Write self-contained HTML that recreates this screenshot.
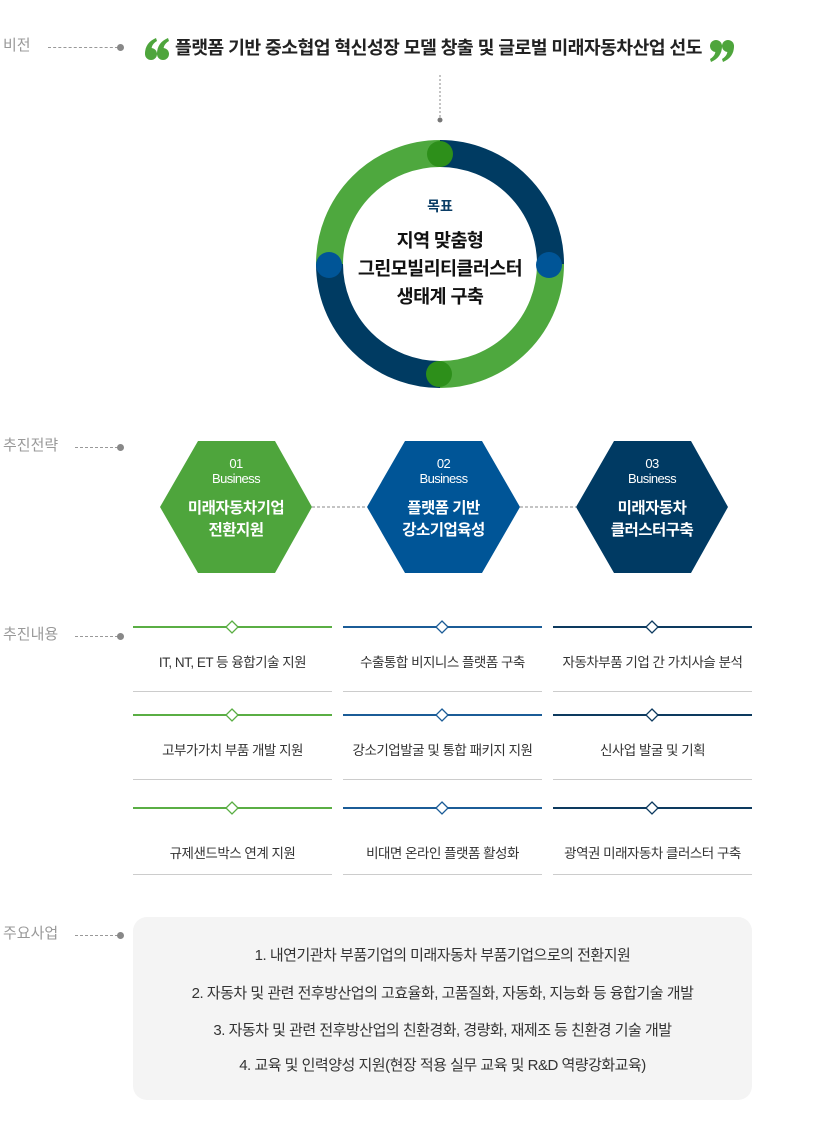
<!DOCTYPE html>
<html><head><meta charset="utf-8"><style>
body{margin:0;width:821px;height:1143px;background:#fff;position:relative;overflow:hidden;font-family:"Liberation Sans","Noto Sans CJK KR",sans-serif;}
.a{position:absolute;white-space:nowrap;}
.lbl{position:absolute;left:3px;font-size:15px;color:#999;line-height:20px;}
.dash{position:absolute;border-top:1px dashed #999;height:0;}
.dot{position:absolute;width:7px;height:7px;border-radius:50%;background:#888;}
.item{position:absolute;width:199px;text-align:center;font-size:13.5px;color:#333;letter-spacing:-0.5px;}
.sep{position:absolute;width:199px;height:1px;background:#ccc;}
.box{position:absolute;left:133px;top:917px;width:619px;height:183px;background:#f4f4f4;border-radius:14px;}
.bl{position:absolute;left:0;width:619px;text-align:center;font-size:15px;color:#333;letter-spacing:-0.5px;}
</style></head><body>

<div class="lbl" style="top:36px">비전</div>
<div class="dash" style="left:48px;top:47px;width:70px"></div><div class="dot" style="left:117px;top:44px"></div>
<div class="lbl" style="top:436px">추진전략</div>
<div class="dash" style="left:75px;top:447px;width:43px"></div><div class="dot" style="left:117px;top:444px"></div>
<div class="lbl" style="top:625px">추진내용</div>
<div class="dash" style="left:75px;top:636px;width:43px"></div><div class="dot" style="left:117px;top:633px"></div>
<div class="lbl" style="top:924px">주요사업</div>
<div class="dash" style="left:75px;top:935px;width:43px"></div><div class="dot" style="left:117px;top:932px"></div>

<div class="a" style="left:175px;top:37px;font-size:18.3px;font-weight:bold;color:#222;letter-spacing:-0.6px;line-height:22px">플랫폼 기반 중소협업 혁신성장 모델 창출 및 글로벌 미래자동차산업 선도</div>

<svg class="a" style="left:0;top:0" width="821" height="1143">
<!-- quotes -->
<g fill="#4ea53c">
<circle cx="151" cy="54" r="6"/><path d="M145 54 C145 46 149 41 156 38 L157 41 C152 44 151 48 152 50 Z"/>
<circle cx="163" cy="54" r="6"/><path d="M157 54 C157 46 161 41 168 38 L169 41 C164 44 163 48 164 50 Z"/>
<circle cx="716" cy="46" r="6"/><path d="M722 46 C722 54 718 59 711 62 L710 59 C715 56 716 52 715 50 Z"/>
<circle cx="728" cy="46" r="6"/><path d="M734 46 C734 54 730 59 723 62 L722 59 C727 56 728 52 727 50 Z"/>
</g>
<line x1="440" y1="75" x2="440" y2="118" stroke="#888" stroke-dasharray="2,2"/>
<circle cx="440" cy="120" r="2.5" fill="#777"/>
<g fill="none" stroke-width="27">
<path d="M329.5 264 A110.5 110.5 0 0 1 440 153.5" stroke="#4ea83e"/>
<path d="M440 153.5 A110.5 110.5 0 0 1 550.5 264" stroke="#003b62"/>
<path d="M550.5 264 A110.5 110.5 0 0 1 440 374.5" stroke="#4ea83e"/>
<path d="M440 374.5 A110.5 110.5 0 0 1 329.5 264" stroke="#003b62"/>
</g>
<circle cx="440" cy="154" r="13" fill="#2d8f1a"/>
<circle cx="549" cy="265" r="13" fill="#005597"/>
<circle cx="439" cy="374" r="13" fill="#2d8f1a"/>
<circle cx="329" cy="265" r="13" fill="#005597"/>
<line x1="312" y1="507" x2="367" y2="507" stroke="#888" stroke-dasharray="3,2"/>
<line x1="520" y1="507" x2="576" y2="507" stroke="#888" stroke-dasharray="3,2"/>
<polygon points="198,441 275,441 312,507 275,573 198,573 160,507" fill="#4ea53c"/>
<polygon points="405,441 482,441 520,507 482,573 405,573 367,507" fill="#005597"/>
<polygon points="614,441 691,441 728,507 691,573 614,573 576,507" fill="#003a63"/>
<g stroke-width="2">
<line x1="133" y1="627" x2="332" y2="627" stroke="#5aae44"/><line x1="133" y1="715" x2="332" y2="715" stroke="#5aae44"/><line x1="133" y1="808" x2="332" y2="808" stroke="#5aae44"/>
<line x1="343" y1="627" x2="542" y2="627" stroke="#1b5c97"/><line x1="343" y1="715" x2="542" y2="715" stroke="#1b5c97"/><line x1="343" y1="808" x2="542" y2="808" stroke="#1b5c97"/>
<line x1="553" y1="627" x2="752" y2="627" stroke="#0d3a5f"/><line x1="553" y1="715" x2="752" y2="715" stroke="#0d3a5f"/><line x1="553" y1="808" x2="752" y2="808" stroke="#0d3a5f"/>
</g>
<g fill="#fff" stroke-width="1.3">
<path d="M232 621 l6 6 l-6 6 l-6 -6z" stroke="#5aae44"/><path d="M232 709 l6 6 l-6 6 l-6 -6z" stroke="#5aae44"/><path d="M232 802 l6 6 l-6 6 l-6 -6z" stroke="#5aae44"/>
<path d="M442 621 l6 6 l-6 6 l-6 -6z" stroke="#1b5c97"/><path d="M442 709 l6 6 l-6 6 l-6 -6z" stroke="#1b5c97"/><path d="M442 802 l6 6 l-6 6 l-6 -6z" stroke="#1b5c97"/>
<path d="M652 621 l6 6 l-6 6 l-6 -6z" stroke="#0d3a5f"/><path d="M652 709 l6 6 l-6 6 l-6 -6z" stroke="#0d3a5f"/><path d="M652 802 l6 6 l-6 6 l-6 -6z" stroke="#0d3a5f"/>
</g>
</svg>

<div class="a" style="left:340px;top:196px;width:200px;text-align:center;font-size:14px;font-weight:bold;color:#0a3d66">목표</div>
<div class="a" style="left:320px;top:227px;width:240px;text-align:center;font-size:18.5px;font-weight:bold;color:#111;line-height:28px;letter-spacing:-0.6px">지역 맞춤형<br>그린모빌리티클러스터<br>생태계 구축</div>

<div class="a" style="left:160px;top:456px;width:152px;text-align:center;color:#fff;font-size:13px;line-height:15px;letter-spacing:-0.6px">01<br>Business</div>
<div class="a" style="left:160px;top:498px;width:152px;text-align:center;color:#fff;font-size:15.5px;font-weight:bold;line-height:22px;letter-spacing:-0.5px">미래자동차기업<br>전환지원</div>
<div class="a" style="left:367px;top:456px;width:153px;text-align:center;color:#fff;font-size:13px;line-height:15px;letter-spacing:-0.6px">02<br>Business</div>
<div class="a" style="left:367px;top:498px;width:153px;text-align:center;color:#fff;font-size:15.5px;font-weight:bold;line-height:22px;letter-spacing:-0.5px">플랫폼 기반<br>강소기업육성</div>
<div class="a" style="left:576px;top:456px;width:152px;text-align:center;color:#fff;font-size:13px;line-height:15px;letter-spacing:-0.6px">03<br>Business</div>
<div class="a" style="left:576px;top:498px;width:152px;text-align:center;color:#fff;font-size:15.5px;font-weight:bold;line-height:22px;letter-spacing:-0.5px">미래자동차<br>클러스터구축</div>

<div class="item" style="left:133px;top:651px">IT, NT, ET 등 융합기술 지원</div>
<div class="item" style="left:343px;top:651px">수출통합 비지니스 플랫폼 구축</div>
<div class="item" style="left:553px;top:651px">자동차부품 기업 간 가치사슬 분석</div>
<div class="item" style="left:133px;top:739px">고부가가치 부품 개발 지원</div>
<div class="item" style="left:343px;top:739px">강소기업발굴 및 통합 패키지 지원</div>
<div class="item" style="left:553px;top:739px">신사업 발굴 및 기획</div>
<div class="item" style="left:133px;top:842px">규제샌드박스 연계 지원</div>
<div class="item" style="left:343px;top:842px">비대면 온라인 플랫폼 활성화</div>
<div class="item" style="left:553px;top:842px">광역권 미래자동차 클러스터 구축</div>
<div class="sep" style="left:133px;top:691px"></div><div class="sep" style="left:343px;top:691px"></div><div class="sep" style="left:553px;top:691px"></div>
<div class="sep" style="left:133px;top:779px"></div><div class="sep" style="left:343px;top:779px"></div><div class="sep" style="left:553px;top:779px"></div>
<div class="sep" style="left:133px;top:874px"></div><div class="sep" style="left:343px;top:874px"></div><div class="sep" style="left:553px;top:874px"></div>

<div class="box">
<div class="bl" style="top:27px">1. 내연기관차 부품기업의 미래자동차 부품기업으로의 전환지원</div>
<div class="bl" style="top:65px">2. 자동차 및 관련 전후방산업의 고효율화, 고품질화, 자동화, 지능화 등 융합기술 개발</div>
<div class="bl" style="top:102px">3. 자동차 및 관련 전후방산업의 친환경화, 경량화, 재제조 등 친환경 기술 개발</div>
<div class="bl" style="top:137px">4. 교육 및 인력양성 지원(현장 적용 실무 교육 및 R&amp;D 역량강화교육)</div>
</div>
</body></html>
